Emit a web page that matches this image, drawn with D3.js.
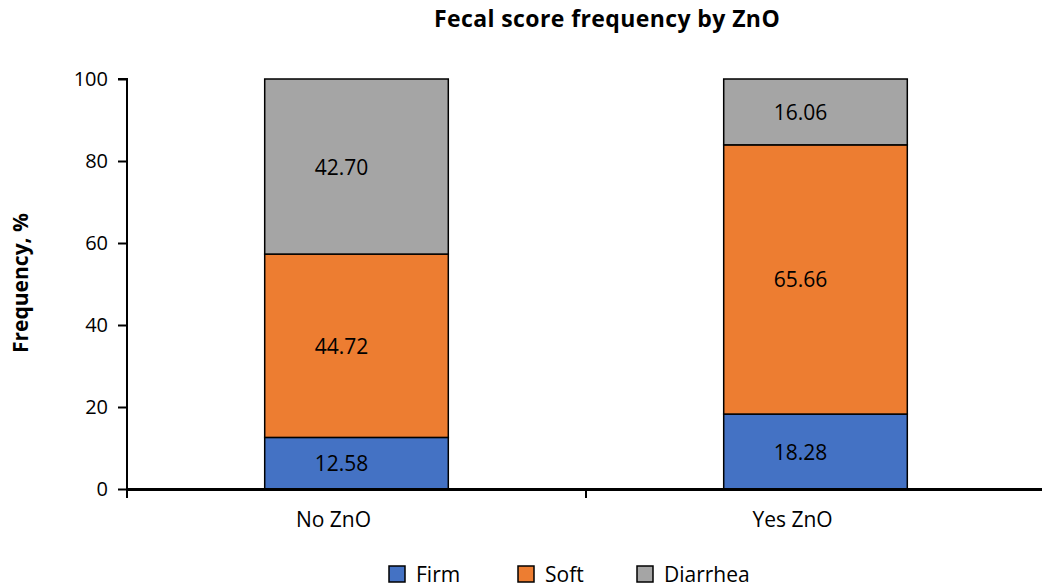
<!DOCTYPE html>
<html><head><meta charset="utf-8">
<script src="https://cdn.jsdelivr.net/npm/d3@7"></script>
<style>body{margin:0;background:#fff}svg{display:block}text{font-family:"Open Sans","Noto Sans",sans-serif}</style>
</head><body><svg id="c" width="1042" height="588"></svg>
<script>
const categories = ["No ZnO", "Yes ZnO"];
const seriesNames = ["Firm", "Soft", "Diarrhea"];
const firm = [12.58, 18.28];
const soft = [44.72, 65.66];
const diarrhea = [42.70, 16.06];
const yTicks = [0, 20, 40, 60, 80, 100];
const colors = ["#4472C4", "#ED7D31", "#A5A5A5"];

(function () {
const FF = '"Open Sans","Noto Sans",sans-serif';
const svg = d3.select("#c");
const mLeft = 127, mTop = 79, mBottom = 489;
const band = 459;
const x = d3.scaleBand().domain(categories).range([mLeft, mLeft + band * categories.length]).paddingInner(0).paddingOuter(0);
const y = d3.scaleLinear().domain([0, 100]).range([mBottom, mTop]);

const rows = categories.map((c, i) => ({cat: c, Firm: firm[i], Soft: soft[i], Diarrhea: diarrhea[i]}));
const stack = d3.stack().keys(seriesNames)(rows);

svg.append("text").attr("x", 607).attr("y", 27).attr("text-anchor", "middle")
  .attr("font-weight", "bold").attr("font-size", 23).attr("letter-spacing", 0.4).text("Fecal score frequency by ZnO");

const barW = x.bandwidth() * 0.4;
stack.forEach((s, si) => {
  const g = svg.append("g");
  s.forEach(d => {
    const cx = x(d.data.cat) + x.bandwidth() / 2;
    g.append("rect").attr("x", cx - barW / 2).attr("y", y(d[1])).attr("width", barW)
      .attr("height", y(d[0]) - y(d[1])).attr("fill", colors[si]).attr("stroke", "#000").attr("stroke-width", 1.5);
    g.append("text").attr("x", cx - 15).attr("y", (y(d[0]) + y(d[1])) / 2).attr("dy", "0.38em")
      .attr("text-anchor", "middle").attr("font-size", 21).attr("fill", "#000")
      .text((d[1] - d[0]).toFixed(2));
  });
});

// Y axis
const ya = svg.append("g").attr("transform", `translate(${mLeft},0)`)
  .call(d3.axisLeft(y).tickValues(yTicks).tickSize(9).tickPadding(10).tickFormat(d3.format("d")));
ya.select(".domain").attr("stroke", "#000").attr("stroke-width", 2).attr("d", `M-9,${mTop}H0V${mBottom + 9}`);
ya.selectAll(".tick line").attr("stroke", "#000").attr("stroke-width", 2);
ya.selectAll(".tick text").attr("font-size", 20).attr("fill", "#000").style("font-family", FF);

// X axis
const xa = svg.append("g").attr("transform", `translate(0,${mBottom})`)
  .call(d3.axisBottom(x).tickSize(0).tickPadding(23));
xa.select(".domain").attr("stroke", "#000").attr("stroke-width", 3);
xa.selectAll(".tick text").attr("font-size", 21).attr("fill", "#000").attr("dx", -23).style("font-family", FF);
categories.slice(1).forEach(c => {
  svg.append("line").attr("x1", x(c)).attr("x2", x(c)).attr("y1", mBottom).attr("y2", mBottom + 9)
    .attr("stroke", "#000").attr("stroke-width", 2);
});

svg.append("text").attr("transform", "translate(28,283) rotate(-90)").attr("text-anchor", "middle")
  .attr("font-weight", "bold").attr("font-size", 21).text("Frequency, %");

// Legend
const legX = [389, 518, 637];
seriesNames.forEach((n, i) => {
  svg.append("rect").attr("x", legX[i]).attr("y", 566).attr("width", 16).attr("height", 16)
    .attr("fill", colors[i]).attr("stroke", "#000").attr("stroke-width", 1.5);
  svg.append("text").attr("x", legX[i] + 27).attr("y", 582)
    .attr("font-size", 21).text(n);
});
})();
</script></body></html>
